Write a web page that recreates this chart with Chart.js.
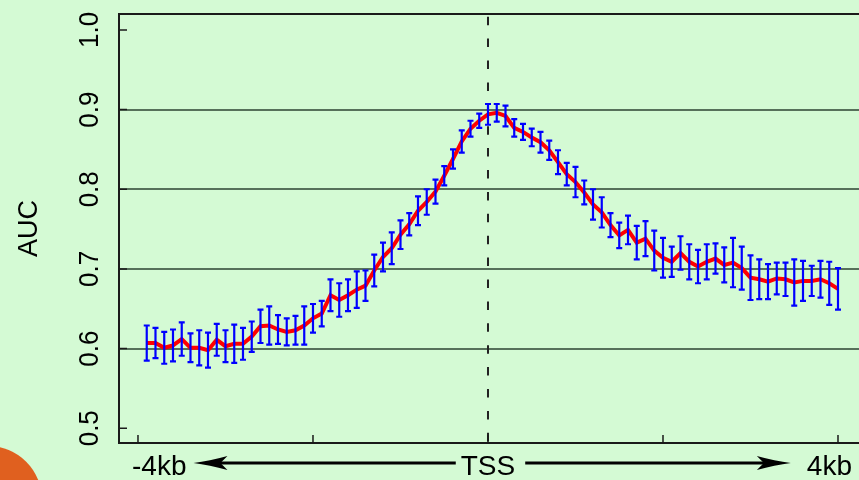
<!DOCTYPE html>
<html>
<head>
<meta charset="utf-8">
<script src="https://cdn.jsdelivr.net/npm/chart.js@4.4.1/dist/chart.umd.min.js"></script>
<style>
	html, body { margin: 0; padding: 0; background: #d4fad4; overflow: hidden; }
	#wrap { position: relative; width: 859px; height: 480px; }
	#dot { position: absolute; left: -66px; top: 446px; width: 108px; height: 108px; border-radius: 50%; background: #e0601f; }
</style>
</head>
<body>
<div id="wrap">
	<canvas id="aucChart" width="859" height="480"></canvas>
	<div id="dot"></div>
</div>
<script>
// distance to TSS in bp (bin positions)
const positions = [
	-3900, -3800, -3700, -3600, -3500, -3400, -3300, -3200, -3100, -3000,
	-2900, -2800, -2700, -2600, -2500, -2400, -2300, -2200, -2100, -2000,
	-1900, -1800, -1700, -1600, -1500, -1400, -1300, -1200, -1100, -1000,
	-900, -800, -700, -600, -500, -400, -300, -200, -100, 0,
	100, 200, 300, 400, 500, 600, 700, 800, 900, 1000,
	1100, 1200, 1300, 1400, 1500, 1600, 1700, 1800, 1900, 2000,
	2100, 2200, 2300, 2400, 2500, 2600, 2700, 2800, 2900, 3000,
	3100, 3200, 3300, 3400, 3500, 3600, 3700, 3800, 3900, 4000
];
const auc = [
	0.607, 0.607, 0.601, 0.604, 0.612, 0.601, 0.601, 0.598, 0.611, 0.603,
	0.606, 0.606, 0.615, 0.628, 0.629, 0.624, 0.621, 0.623, 0.629, 0.638,
	0.644, 0.667, 0.661, 0.667, 0.674, 0.679, 0.698, 0.715, 0.726, 0.743,
	0.756, 0.773, 0.784, 0.797, 0.817, 0.838, 0.860, 0.876, 0.886, 0.894,
	0.896, 0.892, 0.877, 0.872, 0.865, 0.859, 0.849, 0.834, 0.819, 0.809,
	0.796, 0.781, 0.771, 0.755, 0.742, 0.749, 0.733, 0.738, 0.723, 0.714,
	0.709, 0.720, 0.709, 0.703, 0.709, 0.713, 0.705, 0.708, 0.701, 0.689,
	0.687, 0.684, 0.688, 0.687, 0.683, 0.685, 0.685, 0.687, 0.682, 0.675
];
// half length of each error bar
const aucErr = [
	0.022, 0.019, 0.020, 0.020, 0.021, 0.018, 0.022, 0.022, 0.020, 0.020,
	0.024, 0.020, 0.019, 0.021, 0.024, 0.018, 0.017, 0.018, 0.024, 0.018,
	0.016, 0.020, 0.021, 0.020, 0.023, 0.019, 0.020, 0.018, 0.020, 0.018,
	0.014, 0.018, 0.016, 0.015, 0.012, 0.012, 0.014, 0.010, 0.009, 0.013,
	0.011, 0.013, 0.011, 0.010, 0.011, 0.013, 0.012, 0.015, 0.014, 0.019,
	0.015, 0.019, 0.019, 0.015, 0.016, 0.018, 0.021, 0.022, 0.025, 0.025,
	0.019, 0.021, 0.022, 0.021, 0.022, 0.019, 0.022, 0.031, 0.027, 0.028,
	0.025, 0.022, 0.020, 0.021, 0.029, 0.025, 0.019, 0.023, 0.027, 0.026
];
const xTicks = [-4000, -2000, 0, 2000, 4000];
const xTickLabels = ['-4kb', '', 'TSS', '', '4kb'];
const yTicks = [0.5, 0.6, 0.7, 0.8, 0.9, 1.0];
const yTickLabels = ['0.5', '0.6', '0.7', '0.8', '0.9', '1.0'];
const gridAt = [0.6, 0.7, 0.8, 0.9];

function arrowHead(ctx, tipX, y, dir) {
	// dir = -1 points left, 1 points right
	ctx.beginPath();
	ctx.moveTo(tipX, y);
	ctx.quadraticCurveTo(tipX - dir * 16, y - 2, tipX - dir * 34, y - 7);
	ctx.lineTo(tipX - dir * 27, y);
	ctx.lineTo(tipX - dir * 34, y + 7);
	ctx.quadraticCurveTo(tipX - dir * 16, y + 2, tipX, y);
	ctx.closePath();
	ctx.fill();
}

const extras = {
	id: 'extras',
	beforeDatasetsDraw(chart) {
		const ctx = chart.ctx, a = chart.chartArea;
		const px = chart.scales.x.getPixelForValue(0);
		ctx.save();
		ctx.strokeStyle = '#222';
		ctx.lineWidth = 2;
		ctx.setLineDash([8.5, 13.4]);
		ctx.beginPath();
		ctx.moveTo(px, a.top + 2.7);
		ctx.lineTo(px, a.bottom);
		ctx.stroke();
		ctx.restore();
	},
	afterDatasetsDraw(chart) {
		const ctx = chart.ctx, x = chart.scales.x, y = chart.scales.y;
		ctx.save();
		ctx.strokeStyle = '#0000ff';
		ctx.lineWidth = 2.2;
		ctx.beginPath();
		positions.forEach(function(p, i) {
			const px = x.getPixelForValue(p);
			const top = y.getPixelForValue(auc[i] + aucErr[i]);
			const bot = y.getPixelForValue(auc[i] - aucErr[i]);
			ctx.moveTo(px, top); ctx.lineTo(px, bot);
			ctx.moveTo(px - 3, top); ctx.lineTo(px + 3, top);
			ctx.moveTo(px - 3, bot); ctx.lineTo(px + 3, bot);
		});
		ctx.stroke();
		ctx.restore();
	},
	afterDraw(chart) {
		const ctx = chart.ctx, a = chart.chartArea, x = chart.scales.x, y = chart.scales.y;
		ctx.save();
		// box (right side is off the picture)
		ctx.strokeStyle = '#1a1a1a';
		ctx.lineWidth = 2;
		ctx.beginPath();
		ctx.moveTo(a.right + 5, a.top);
		ctx.lineTo(a.left, a.top);
		ctx.lineTo(a.left, a.bottom);
		ctx.lineTo(a.right + 5, a.bottom);
		ctx.stroke();
		// ticks point inwards
		ctx.lineWidth = 1.5;
		ctx.beginPath();
		xTicks.forEach(function(v) {
			const px = x.getPixelForValue(v);
			ctx.moveTo(px, a.bottom); ctx.lineTo(px, a.bottom - 8);
		});
		yTicks.forEach(function(v) {
			const py = y.getPixelForValue(v);
			ctx.moveTo(a.left, py); ctx.lineTo(a.left + 8, py);
		});
		ctx.stroke();
		// y tick labels, rotated like R's las=0
		ctx.fillStyle = '#000';
		ctx.font = '26px "Liberation Sans", Arial, sans-serif';
		ctx.textAlign = 'center';
		ctx.textBaseline = 'middle';
		yTicks.forEach(function(v, i) {
			ctx.save();
			ctx.translate(a.left - 29, y.getPixelForValue(v));
			ctx.scale(1.08, 1);
			ctx.rotate(-Math.PI / 2);
			ctx.fillText(yTickLabels[i], 0, 0);
			ctx.restore();
		});
		// x labels with arrows
		ctx.font = '28px "Liberation Sans", Arial, sans-serif';
		ctx.textBaseline = 'alphabetic';
		const baseY = a.bottom + 32;
		const arrowY = a.bottom + 20;
		const xl = x.getPixelForValue(xTicks[0]) - 6;
		const xc = x.getPixelForValue(xTicks[2]);
		const xr = x.getPixelForValue(xTicks[4]) + 14;
		ctx.textAlign = 'left';
		ctx.fillText(xTickLabels[0], xl, baseY);
		ctx.textAlign = 'center';
		ctx.fillText(xTickLabels[2], xc, baseY);
		ctx.textAlign = 'right';
		ctx.fillText(xTickLabels[4], xr, baseY);
		const wl = ctx.measureText(xTickLabels[0]).width;
		const wc = ctx.measureText(xTickLabels[2]).width;
		const wr = ctx.measureText(xTickLabels[4]).width;
		const leftTip = xl + wl + 7, leftStart = xc - wc / 2 - 5;
		const rightStart = xc + wc / 2 + 10, rightTip = xr - wr - 16;
		ctx.strokeStyle = '#000';
		ctx.fillStyle = '#000';
		ctx.lineWidth = 3;
		ctx.beginPath();
		ctx.moveTo(leftStart, arrowY); ctx.lineTo(leftTip + 20, arrowY);
		ctx.moveTo(rightStart, arrowY); ctx.lineTo(rightTip - 20, arrowY);
		ctx.stroke();
		arrowHead(ctx, leftTip, arrowY, -1);
		arrowHead(ctx, rightTip, arrowY, 1);
		ctx.restore();
	}
};

const chart = new Chart(document.getElementById('aucChart'), {
	type: 'line',
	data: {
		datasets: [{
			data: positions.map(function(p, i) { return { x: p, y: auc[i] }; }),
			borderColor: '#ff0000',
			borderWidth: 4,
			pointRadius: 0,
			tension: 0,
			fill: false
		}]
	},
	options: {
		responsive: false,
		animation: false,
		devicePixelRatio: 1,
		layout: { padding: { top: 14, right: 0, bottom: 0, left: 0 } },
		plugins: {
			legend: { display: false },
			tooltip: { enabled: false }
		},
		scales: {
			x: {
				type: 'linear',
				min: -4217,
				max: 4240,
				afterBuildTicks: function(s) { s.ticks = xTicks.map(function(v) { return { value: v }; }); },
				afterFit: function(s) { s.height = 37; },
				ticks: { display: false },
				grid: { display: false, drawTicks: false },
				border: { display: false }
			},
			y: {
				min: 0.4815,
				max: 1.02,
				afterBuildTicks: function(s) { s.ticks = yTicks.map(function(v) { return { value: v }; }); },
				afterFit: function(s) { s.width = 119; },
				ticks: { display: false },
				grid: {
					color: function(c) { return gridAt.includes(c.tick.value) ? '#56705a' : 'rgba(0,0,0,0)'; },
					lineWidth: 2,
					drawTicks: false
				},
				border: { display: false },
				title: {
					display: true,
					text: 'AUC',
					color: '#000',
					font: { family: '"Liberation Sans", Arial, sans-serif', size: 27 },
					padding: { top: 13, bottom: 0 }
				}
			}
		}
	},
	plugins: [extras]
});
</script>
</body>
</html>
